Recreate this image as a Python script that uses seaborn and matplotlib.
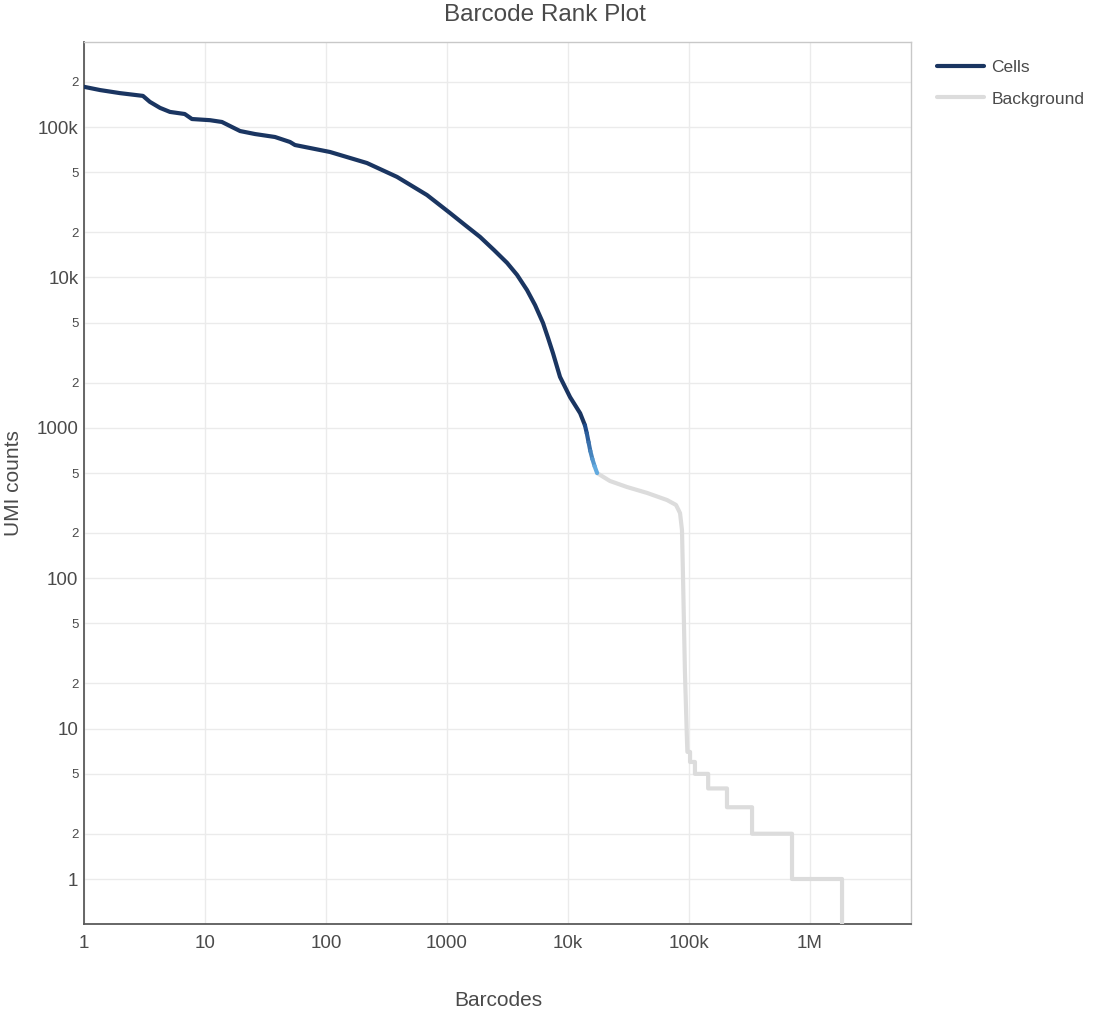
import numpy as np
import pandas as pd
import matplotlib
matplotlib.use('Agg')
import matplotlib.pyplot as plt
from matplotlib.lines import Line2D
from matplotlib.ticker import NullLocator
import seaborn as sns

# ── Data ──────────────────────────────────────────────────────────────
cell_rank = [1, 1.36, 1.98, 3.07, 3.5, 4.25, 5.13, 6.8, 7.8, 11, 13.8, 16.7,
             19.5, 25.9, 37.9, 50.4, 55.4, 108, 218, 386, 683, 1059, 1409,
             1874, 2446, 3134, 3790, 4583, 5340, 6213, 6840, 7510, 8590,
             10400, 12600, 13800]
cell_umi = [185000, 176000, 168000, 161000, 147000, 134000, 126000, 122000,
            113000, 111000, 108000, 100000, 94000, 89800, 85800, 79500, 75900,
            68200, 57600, 46600, 35300, 26800, 22300, 18600, 15200, 12500,
            10400, 8240, 6550, 4980, 3960, 3140, 2180, 1600, 1250, 1040]

trans_rank = [13800, 14300, 14800, 15300, 15900, 16600, 17400]
trans_umi = [1040, 920, 800, 700, 620, 555, 500]

bg_rank = [17400, 22200, 30700, 45000, 65800, 78100, 84300, 87500, 89100,
           92600, 96200, 97000, 102000, 102000, 112000, 112000, 144000,
           144000, 206000, 206000, 332000, 332000, 710000, 710000, 1840000,
           1840000]
bg_umi = [500, 443, 404, 369, 331, 307, 271, 209, 108, 23.4, 8.4, 7, 7, 6, 6,
          5, 5, 4, 4, 3, 3, 2, 2, 1, 1, 0.3]

x_ticks = [1, 10, 100, 1000, 1e4, 1e5, 1e6]
x_labels = ['1', '10', '100', '1000', '10k', '100k', '1M']
y_ticks = [1, 10, 100, 1000, 1e4, 1e5]
y_labels = ['1', '10', '100', '1000', '10k', '100k']
y_minor = [2, 5, 20, 50, 200, 500, 2000, 5000, 2e4, 5e4, 2e5]
y_minor_labels = ['2', '5'] * 5 + ['2']

CELL_COLOR = '#1a3561'
TRANS_END = '#62aadf'
BG_COLOR = '#dcdcdc'
TEXT = '#4a4a4a'

sns.set_theme(style='white')
plt.rcParams['font.family'] = ['Liberation Sans', 'DejaVu Sans']

fig = plt.figure(figsize=(10.95, 10.10), dpi=100)
ax = fig.add_axes([84 / 1095, 1 - 924 / 1010, 827 / 1095, 882 / 1010])

cells = pd.DataFrame({'rank': cell_rank, 'umi': cell_umi})
bg = pd.DataFrame({'rank': bg_rank, 'umi': bg_umi})

sns.lineplot(data=bg, x='rank', y='umi', sort=False, estimator=None,
             color=BG_COLOR, linewidth=3.0, ax=ax, zorder=3)
sns.lineplot(data=cells, x='rank', y='umi', sort=False, estimator=None,
             color=CELL_COLOR, linewidth=3.0, ax=ax, zorder=4)

# transition segment with a colour gradient (navy -> light blue)
segs = []
for i in range(len(trans_rank) - 1):
    segs += [{'seg': i, 'rank': trans_rank[i], 'umi': trans_umi[i]},
             {'seg': i, 'rank': trans_rank[i + 1], 'umi': trans_umi[i + 1]}]
segs = pd.DataFrame(segs)
grad = sns.blend_palette(['#1d4a8a', TRANS_END], len(trans_rank) - 1)
sns.lineplot(data=segs, x='rank', y='umi', hue='seg', palette=grad,
             sort=False, estimator=None, linewidth=3.0, legend=False,
             ax=ax, zorder=4)

ax.set_xscale('log')
ax.set_yscale('log')
ax.set_xlim(1, 10 ** (827 / 121.0))
ax.set_ylim(10 ** (-45 / 150.4), 10 ** (5 + 85 / 150.4))

ax.set_xticks(x_ticks)
ax.set_xticklabels(x_labels)
ax.xaxis.set_minor_locator(NullLocator())
ax.set_yticks(y_ticks)
ax.set_yticklabels(y_labels)
ax.set_yticks(y_minor, minor=True)
ax.set_yticklabels(y_minor_labels, minor=True, fontsize=9.5)

ax.tick_params(axis='both', which='both', length=0, colors=TEXT)
ax.tick_params(axis='both', which='major', labelsize=13.5)
ax.tick_params(axis='y', which='both', pad=4)
ax.tick_params(axis='x', which='major', pad=8)

ax.grid(True, which='major', axis='x', color='#ebebeb', linewidth=1)
ax.grid(True, which='both', axis='y', color='#ebebeb', linewidth=1)
ax.set_axisbelow(True)

for side in ['left', 'bottom']:
    ax.spines[side].set_color('#5a5a5a')
    ax.spines[side].set_linewidth(1.3)
for side in ['top', 'right']:
    ax.spines[side].set_color('#c8c8c8')
    ax.spines[side].set_linewidth(1.0)

ax.set_xlabel('')
ax.set_ylabel('')
fig.text(498 / 1095, 1 - 1000 / 1010, 'Barcodes', fontsize=15, color=TEXT,
         ha='center', va='center')
fig.text(14 / 1095, 1 - 483 / 1010, 'UMI counts', fontsize=15, color=TEXT,
         ha='center', va='center', rotation=90)
fig.text(545 / 1095, 1 - 15 / 1010, 'Barcode Rank Plot', fontsize=17.5,
         color=TEXT, ha='center', va='center')

handles = [Line2D([0], [0], color=CELL_COLOR, linewidth=3.0),
           Line2D([0], [0], color=BG_COLOR, linewidth=3.0)]
fig.legend(handles, ['Cells', 'Background'], loc='upper left',
           bbox_to_anchor=(935 / 1095, 1 - 58 / 1010), frameon=False,
           fontsize=12.5, handlelength=2.7, handletextpad=0.45,
           labelspacing=0.95, labelcolor=TEXT, borderaxespad=0,
           borderpad=0.1)

fig.savefig('out.png', dpi=100)
plt.close(fig)
